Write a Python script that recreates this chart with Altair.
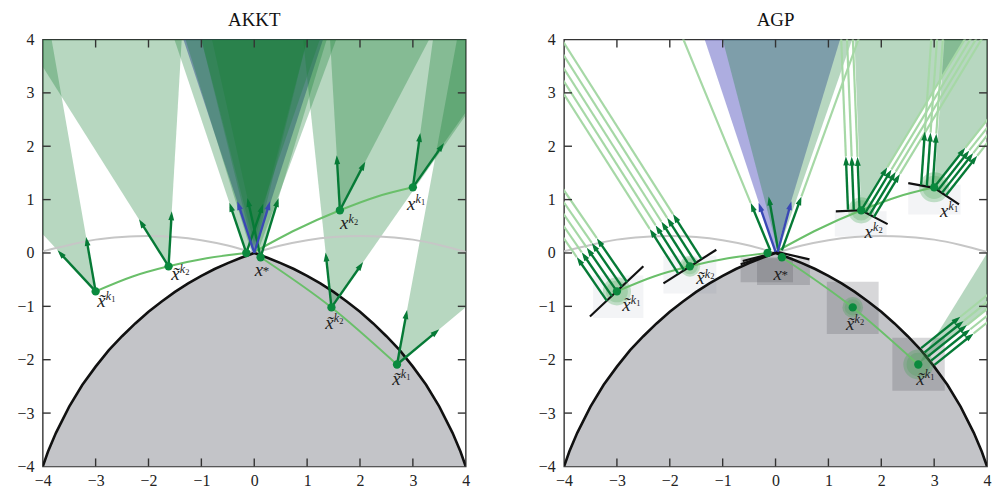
import math
import pandas as pd
import altair as alt

# ---------------- values ----------------
TITLES = ["AKKT", "AGP"]
TICKS = [-4, -3, -2, -1, 0, 1, 2, 3, 4]
INNER_TICKS = [-3, -2, -1, 0, 1, 2, 3]

# boundary of the grey feasible set
BOUND_X = [-4.0, -3.9, -3.75, -3.5, -3.25, -3.0, -2.75, -2.5, -2.25, -2.0, -1.75, -1.5, -1.25, -1.0, -0.75, -0.5, -0.25, 0.0,
           0.25, 0.5, 0.75, 1.0, 1.25, 1.5, 1.75, 2.0, 2.25, 2.5, 2.75, 3.0, 3.25, 3.5, 3.75, 3.9, 4.0]
BOUND_Y = [-4.00, -3.72, -3.37, -2.88, -2.47, -2.13, -1.82, -1.56, -1.32, -1.10, -0.91, -0.73, -0.57, -0.43, -0.30, -0.19, -0.09, 0.00,
           -0.09, -0.19, -0.30, -0.43, -0.57, -0.73, -0.91, -1.10, -1.32, -1.56, -1.82, -2.13, -2.47, -2.88, -3.37, -3.72, -4.00]

# light grey double arc
ARC_LEFT_X = [-4.0, -3.5, -3.0, -2.5, -2.0, -1.5, -1.0, -0.5, 0.0]
ARC_LEFT_Y = [0.03, 0.15, 0.25, 0.30, 0.32, 0.30, 0.24, 0.14, 0.00]
ARC_RIGHT_X = [0.0, 0.5, 1.0, 1.5, 2.0, 2.5, 3.0, 3.5, 4.0]
ARC_RIGHT_Y = [0.00, 0.14, 0.24, 0.30, 0.32, 0.30, 0.25, 0.15, 0.02]

# iterates (green dots)
DOT_X = [-3.00, -1.62, -0.15, 0.12, 1.62, 3.00, 1.46, 2.70]
DOT_Y = [-0.72, -0.25, 0.00, -0.08, 0.80, 1.23, -1.02, -2.09]

# sequences joining the iterates
SEQ_A_X = [-3.00, -2.30, -1.62, -0.90, -0.15]
SEQ_A_Y = [-0.72, -0.44, -0.25, -0.10, 0.00]
SEQ_B_X = [0.00, 0.80, 1.62, 2.30, 3.00]
SEQ_B_Y = [0.02, 0.44, 0.80, 1.05, 1.23]
SEQ_C_X = [0.12, 1.46, 2.70]
SEQ_C_Y = [-0.08, -1.02, -2.09]

# ---- AKKT panel ----
AK_ARR_BX = [-3.00, -3.00, -1.62, -1.62, 1.62, 1.62, 3.00, 3.00, 1.46, 1.46, 2.70, 2.70, -0.15, -0.15, 0.12, 0.12, 0.00, 0.00]
AK_ARR_BY = [-0.72, -0.72, -0.25, -0.25, 0.80, 0.80, 1.23, 1.23, -1.02, -1.02, -2.09, -2.09, 0.00, 0.00, -0.08, -0.08, 0.00, 0.00]
AK_ARR_HX = [-3.72, -3.18, -2.18, -1.56, 1.56, 2.10, 3.14, 3.59, 1.35, 2.06, 2.89, 3.50, -0.47, 0.17, -0.13, 0.46, -0.32, 0.30]
AK_ARR_HY = [0.05, 0.30, 0.63, 0.78, 1.83, 1.71, 2.25, 2.06, 0.01, -0.17, -1.07, -1.43, 0.94, 0.92, 1.03, 1.03, 0.97, 0.97]
AK_ARR_KIND = ["g"] * 16 + ["b"] * 2
AK_CONE_PAIRS = [(0, 1), (2, 3), (4, 5), (6, 7), (8, 9), (10, 11)]

# cones near x* (apex, x where each edge meets the top border y=4)
AK_CEN_AX = [-0.15, 0.12, -0.05, 0.05, 0.00]
AK_CEN_AY = [0.00, -0.08, 0.00, -0.03, 0.00]
AK_CEN_LTOP = [-1.51, -0.80, -1.30, -1.00, -1.00]
AK_CEN_RTOP = [1.24, 1.37, 1.00, 1.55, 1.00]
AK_BLUE = (0.00, 0.00, -1.34, 1.30)

AK_LBL_X = [-2.89, -1.49, 0.09, 1.70, 2.97, 1.42, 2.69]
AK_LBL_Y = [-1.02, -0.51, -0.44, 0.44, 0.81, -1.43, -2.47]

# ---- AGP panel ----
AG_BLACK_ID = [0, 0, 1, 1, 2, 2, 2, 3, 3, 3, 4, 4, 4, 5, 5]
AG_BLACK_X = [-3.51, -2.50, -2.12, -1.12, 1.14, 1.62, 2.12, 2.51, 3.00, 3.47, -0.66, 0.03, 0.64, -0.62, -0.22]
AG_BLACK_Y = [-1.19, -0.25, -0.57, 0.06, 0.78, 0.80, 0.54, 1.31, 1.22, 0.91, -0.21, 0.02, -0.12, -0.15, -0.05]

SQ_X0 = [-3.45, -2.12, 1.12, 2.51, 0.97, 2.21, -0.66, -0.35]
SQ_X1 = [-2.50, -1.12, 2.10, 3.50, 1.95, 3.20, 0.33, 0.65]
SQ_Y0 = [-1.22, -0.76, 0.31, 0.72, -1.52, -2.58, -0.55, -0.60]
SQ_Y1 = [-0.42, -0.05, 0.78, 1.28, -0.54, -1.59, -0.08, -0.10]
SQ_TONE = ["light", "light", "light", "light", "dark", "dark", "dark", "dark"]

DISC_X = [-3.00, -1.62, 1.62, 3.00, 1.46, 2.70]
DISC_Y = [-0.72, -0.25, 0.80, 1.23, -1.02, -2.09]
DISC_R = [0.30, 0.22, 0.28, 0.32, 0.22, 0.32]

BUN_PX = [-3.00, -1.62, 1.62, 1.62, 3.00, 3.00, 2.88]
BUN_PY = [-0.72, -0.25, 0.80, 0.80, 1.23, 1.23, -1.94]
BUN_TX = [0.73, 0.846, -1.0, 0.883, -0.984, 0.835, 0.63]
BUN_TY = [0.68, 0.533, 0.04, -0.469, 0.18, -0.55, -0.78]
BUN_DX = [-0.57, -0.54, -0.04, 0.52, 0.07, 0.62, 0.78]
BUN_DY = [0.82, 0.84, 1.0, 0.85, 1.0, 0.78, 0.62]
BUN_OFFS = [[-0.26, -0.13, 0.0, 0.13, 0.26], [-0.26, -0.13, 0.0, 0.13, 0.26], [0.03, 0.14, 0.25],
            [0.0, 0.09, 0.18, 0.27], [0.03, 0.14, 0.25], [0.0, 0.09, 0.18, 0.27], [-0.2, -0.1, 0.0, 0.1, 0.2]]
BUN_LEN = [1.0, 1.0, 1.0, 0.95, 1.0, 0.95, 0.95]

AG_C_BX = [-0.10, 0.05, 0.12, 0.00, 0.04]
AG_C_BY = [0.05, 0.05, 0.05, 0.02, 0.02]
AG_C_HX = [-0.47, -0.13, 0.49, -0.32, 0.30]
AG_C_HY = [0.94, 1.06, 1.06, 0.94, 0.97]
AG_C_KIND = ["g", "g", "g", "b", "b"]
AG_C_LONG = [1, 0, 1, 0, 0]

AG_CONE_AX = [1.62, 3.00, 2.70, 0.05]
AG_CONE_AY = [0.80, 1.23, -2.09, 0.02]
AG_CONE_D1X = [-0.04, 0.07, 0.53, -1.05]
AG_CONE_D1Y = [1.0, 1.0, 0.85, 3.98]
AG_CONE_D2X = [0.52, 0.62, 0.78, 1.40]
AG_CONE_D2Y = [0.85, 0.78, 0.62, 3.98]
AG_BLUE = (0.00, 0.00, -1.34, 1.22)

AG_LBL_X = [-2.82, -1.42, 0.04, 1.76, 3.19, 1.41, 2.74]
AG_LBL_Y = [-1.08, -0.59, -0.50, 0.28, 0.68, -1.45, -2.47]

LBL_BASE = ["x\u0303", "x\u0303", "x", "x", "x", "x\u0303", "x\u0303"]
LBL_SUP = ["k", "k", "*", "k", "k", "k", "k"]
LBL_SUB = ["1", "2", "", "2", "1", "2", "1"]

# ---------------- styling / geometry helpers ----------------
W, H = 426, 430
SX, SY = W / 8.0, H / 8.0
SERIF = "Liberation Serif"
CONE_GREEN = "#167f35"
ARROW_GREEN = "#067a36"
ARROW_BLUE = "#3a48b5"
BLUE_FILL = "#3c3cb4"
SEQ_GREEN = "#6abf6a"
LONG_GREEN = "#a6d8a6"
DOT_GREEN = "#0b8a3e"
REGION = "#c3c4c8"

XS = alt.Scale(domain=[-4, 4], nice=False, zero=False)
YS = alt.Scale(domain=[-4, 4], nice=False, zero=False)

AXIS_X = alt.Axis(values=TICKS, title=None, ticks=False, tickSize=0, domain=False, grid=False,
                  labelFont=SERIF, labelFontSize=16, labelColor="#222", labelPadding=6,
                  labelFlush=False, labelOverlap=False)
AXIS_Y = alt.Axis(values=TICKS, title=None, ticks=False, tickSize=0, domain=False, grid=False,
                  labelFont=SERIF, labelFontSize=16, labelColor="#222", labelPadding=9,
                  labelFlush=False, labelOverlap=False, minExtent=28, maxExtent=28)


def ex(field):
    return alt.X(field, type="quantitative", scale=XS, axis=AXIS_X)


def ey(field):
    return alt.Y(field, type="quantitative", scale=YS, axis=AXIS_Y, stack=None)


def clip_poly(poly, lo=-4.0, hi=4.0):
    def run(pts, inside, inter):
        out = []
        n = len(pts)
        for i in range(n):
            cur, prev = pts[i], pts[i - 1]
            if inside(cur):
                if not inside(prev):
                    out.append(inter(prev, cur))
                out.append(cur)
            elif inside(prev):
                out.append(inter(prev, cur))
        return out

    def ix(v):
        return lambda p, q: (v, p[1] + (v - p[0]) / (q[0] - p[0]) * (q[1] - p[1]))

    def iy(v):
        return lambda p, q: (p[0] + (v - p[1]) / (q[1] - p[1]) * (q[0] - p[0]), v)

    pts = list(poly)
    for inside, inter in [(lambda p: p[0] >= lo, ix(lo)), (lambda p: p[0] <= hi, ix(hi)),
                          (lambda p: p[1] >= lo, iy(lo)), (lambda p: p[1] <= hi, iy(hi))]:
        if not pts:
            break
        pts = run(pts, inside, inter)
    return pts


def envelope(poly, pid):
    rows = []
    if len(poly) < 3:
        return rows
    xs = sorted(set(round(p[0], 9) for p in poly))
    n = len(poly)
    for xv in xs:
        ys = []
        for i in range(n):
            (x1, y1), (x2, y2) = poly[i], poly[(i + 1) % n]
            if min(x1, x2) - 1e-9 <= xv <= max(x1, x2) + 1e-9:
                if abs(x2 - x1) < 1e-12:
                    ys += [y1, y2]
                else:
                    ys.append(y1 + (y2 - y1) * (xv - x1) / (x2 - x1))
        rows.append({"id": pid, "x": xv, "lo": min(ys), "hi": max(ys)})
    return rows


def cone_rows(ax, ay, d1, d2, pid):
    L = 40.0
    tri = [(ax, ay), (ax + L * d1[0], ay + L * d1[1]), (ax + L * d2[0], ay + L * d2[1])]
    return envelope(clip_poly(tri), pid)


def arrows(bx, by, hx, hy, kinds):
    rules, heads = [], []
    half = 4.5
    for x0, y0, x1, y1, k in zip(bx, by, hx, hy, kinds):
        vx, vy = (x1 - x0) * SX, (y1 - y0) * SY
        n = math.hypot(vx, vy)
        ux, uy = vx / n, vy / n
        cx, cy = x1 - ux * half / SX, y1 - uy * half / SY
        col = ARROW_GREEN if k == "g" else ARROW_BLUE
        ang = math.degrees(math.atan2(vx, vy)) % 360
        rules.append({"x0": x0, "y0": y0, "x1": cx, "y1": cy, "col": col})
        heads.append({"x": cx, "y": cy, "ang": ang, "col": col})
    return pd.DataFrame(rules), pd.DataFrame(heads)


HEAD_PATH = "M0,-1L0.65,1L-0.65,1Z"


def region_layer():
    reg = pd.DataFrame({"x": BOUND_X, "y": BOUND_Y, "b": [-4.0] * len(BOUND_X)})
    return alt.Chart(reg).mark_area(color=REGION, clip=True).encode(x=ex("x"), y=ey("y"), y2="b:Q")


def arc_layer():
    df = pd.concat([
        pd.DataFrame({"x": ARC_LEFT_X, "y": ARC_LEFT_Y, "id": 0}),
        pd.DataFrame({"x": ARC_RIGHT_X, "y": ARC_RIGHT_Y, "id": 1})])
    return alt.Chart(df).mark_line(color="#c6c6c6", strokeWidth=2, interpolate="monotone", clip=True).encode(
        x=ex("x"), y=ey("y"), detail="id:N")


def boundary_layer():
    df = pd.DataFrame({"x": BOUND_X, "y": BOUND_Y})
    return alt.Chart(df).mark_line(color="#111", strokeWidth=2.6, clip=True).encode(x=ex("x"), y=ey("y"))


def seq_layer():
    df = pd.concat([
        pd.DataFrame({"x": SEQ_A_X, "y": SEQ_A_Y, "id": 0}),
        pd.DataFrame({"x": SEQ_B_X, "y": SEQ_B_Y, "id": 1}),
        pd.DataFrame({"x": SEQ_C_X, "y": SEQ_C_Y, "id": 2})])
    return alt.Chart(df).mark_line(color=SEQ_GREEN, strokeWidth=2, interpolate="monotone", clip=True).encode(
        x=ex("x"), y=ey("y"), detail="id:N")


def dots_layer():
    df = pd.DataFrame({"x": DOT_X, "y": DOT_Y})
    return alt.Chart(df).mark_circle(color=DOT_GREEN, size=70, opacity=1).encode(x=ex("x"), y=ey("y"))


def arrow_layers(rules, heads):
    r = alt.Chart(rules).mark_rule(strokeWidth=2.4, clip=True).encode(
        x=ex("x0"), y=ey("y0"), x2="x1:Q", y2="y1:Q", color=alt.Color("col:N", scale=None))
    h = alt.Chart(heads).mark_point(shape=HEAD_PATH, filled=True, size=81, opacity=1, strokeWidth=0).encode(
        x=ex("x"), y=ey("y"), angle=alt.Angle("ang:Q", scale=None), color=alt.Color("col:N", scale=None))
    return [r, h]


def label_layers(lx, ly):
    base = pd.DataFrame({"x": lx, "y": ly, "t": LBL_BASE})
    supk = pd.DataFrame({"x": lx, "y": ly, "t": LBL_SUP})
    sub = pd.DataFrame({"x": lx, "y": ly, "t": LBL_SUB})
    star = supk[supk.t == "*"]
    kk = supk[supk.t == "k"]
    sub = sub[sub.t != ""]
    l1 = alt.Chart(base).mark_text(font=SERIF, fontStyle="italic", fontSize=19, align="center",
                                   baseline="alphabetic", color="#222").encode(x=ex("x"), y=ey("y"), text="t:N")
    l2 = alt.Chart(kk).mark_text(font=SERIF, fontStyle="italic", fontSize=12, align="center",
                                 baseline="alphabetic", color="#222", dx=7, dy=-7).encode(x=ex("x"), y=ey("y"), text="t:N")
    l3 = alt.Chart(sub).mark_text(font=SERIF, fontSize=8.5, align="center",
                                  baseline="alphabetic", color="#222", dx=12, dy=-5).encode(x=ex("x"), y=ey("y"), text="t:N")
    l4 = alt.Chart(star).mark_text(font=SERIF, fontSize=13, align="center",
                                   baseline="alphabetic", color="#222", dx=7, dy=-1).encode(x=ex("x"), y=ey("y"), text="t:N")
    return [l1, l2, l3, l4]


def tick_layer():
    L = 0.15
    rows = []
    for t in INNER_TICKS:
        rows.append({"x0": t, "x1": t, "y0": -4, "y1": -4 + L})
        rows.append({"x0": t, "x1": t, "y0": 4, "y1": 4 - L})
        rows.append({"x0": -4, "x1": -4 + L, "y0": t, "y1": t})
        rows.append({"x0": 4, "x1": 4 - L, "y0": t, "y1": t})
    return alt.Chart(pd.DataFrame(rows)).mark_rule(color="#333", strokeWidth=1.4).encode(
        x=ex("x0"), y=ey("y0"), x2="x1:Q", y2="y1:Q")


def blue_cone_layer(spec, opacity):
    ax, ay, lt, rt = spec
    rows = cone_rows(ax, ay, (lt - ax, 4 - ay), (rt - ax, 4 - ay), 0)
    return alt.Chart(pd.DataFrame(rows)).mark_area(color=BLUE_FILL, opacity=opacity, clip=True).encode(
        x=ex("x"), y=ey("lo"), y2="hi:Q", detail="id:N")


def green_cones_layer(rows):
    return alt.Chart(pd.DataFrame(rows)).mark_area(color=CONE_GREEN, opacity=0.31, clip=True).encode(
        x=ex("x"), y=ey("lo"), y2="hi:Q", detail="id:N")


def title_layer(t):
    df = pd.DataFrame({"t": [t]})
    return alt.Chart(df).mark_text(font=SERIF, fontSize=19, color="#111", align="center",
                                   baseline="alphabetic").encode(
        x=alt.value(W / 2), y=alt.value(-14), text="t:N")


# ---------------- AKKT panel ----------------
ak_cones = []
pid = 0
for i, j in AK_CONE_PAIRS:
    d1 = (AK_ARR_HX[i] - AK_ARR_BX[i], AK_ARR_HY[i] - AK_ARR_BY[i])
    d2 = (AK_ARR_HX[j] - AK_ARR_BX[j], AK_ARR_HY[j] - AK_ARR_BY[j])
    ak_cones += cone_rows(AK_ARR_BX[i], AK_ARR_BY[i], d1, d2, pid)
    pid += 1
for ax, ay, lt, rt in zip(AK_CEN_AX, AK_CEN_AY, AK_CEN_LTOP, AK_CEN_RTOP):
    ak_cones += cone_rows(ax, ay, (lt - ax, 4 - ay), (rt - ax, 4 - ay), pid)
    pid += 1

ak_rules, ak_heads = arrows(AK_ARR_BX, AK_ARR_BY, AK_ARR_HX, AK_ARR_HY, AK_ARR_KIND)

akkt = alt.layer(
    region_layer(),
    blue_cone_layer(AK_BLUE, 0.5),
    green_cones_layer(ak_cones),
    arc_layer(),
    boundary_layer(),
    seq_layer(),
    *arrow_layers(ak_rules, ak_heads),
    dots_layer(),
    *label_layers(AK_LBL_X, AK_LBL_Y),
    tick_layer(),
    title_layer(TITLES[0]),
).properties(width=W, height=H)

# ---------------- AGP panel ----------------
ag_cones = []
for k in range(len(AG_CONE_AX)):
    ag_cones += cone_rows(AG_CONE_AX[k], AG_CONE_AY[k], (AG_CONE_D1X[k], AG_CONE_D1Y[k]),
                          (AG_CONE_D2X[k], AG_CONE_D2Y[k]), k)

bx, by, hx, hy, kinds = [], [], [], [], []
long_rows = []
for b in range(len(BUN_PX)):
    for s in BUN_OFFS[b]:
        x0 = BUN_PX[b] + s * BUN_TX[b]
        y0 = BUN_PY[b] + s * BUN_TY[b]
        x1 = x0 + BUN_LEN[b] * BUN_DX[b]
        y1 = y0 + BUN_LEN[b] * BUN_DY[b]
        bx.append(x0); by.append(y0); hx.append(x1); hy.append(y1); kinds.append("g")
        long_rows.append({"x0": x1, "y0": y1, "x1": x0 + 20 * BUN_DX[b], "y1": y0 + 20 * BUN_DY[b]})
for k in range(len(AG_C_BX)):
    bx.append(AG_C_BX[k]); by.append(AG_C_BY[k]); hx.append(AG_C_HX[k]); hy.append(AG_C_HY[k])
    kinds.append(AG_C_KIND[k])
    if AG_C_LONG[k]:
        dx, dy = AG_C_HX[k] - AG_C_BX[k], AG_C_HY[k] - AG_C_BY[k]
        long_rows.append({"x0": AG_C_HX[k], "y0": AG_C_HY[k],
                          "x1": AG_C_BX[k] + 20 * dx, "y1": AG_C_BY[k] + 20 * dy})
ag_rules, ag_heads = arrows(bx, by, hx, hy, kinds)

sq = pd.DataFrame({"x0": SQ_X0, "x1": SQ_X1, "y0": SQ_Y0, "y1": SQ_Y1, "tone": SQ_TONE})
sq_light = alt.Chart(sq[sq.tone == "light"]).mark_rect(color="#6a7890", opacity=0.08).encode(
    x=ex("x0"), x2="x1:Q", y=ey("y0"), y2="y1:Q")
sq_dark = alt.Chart(sq[sq.tone == "dark"]).mark_rect(color="#494b50", opacity=0.22).encode(
    x=ex("x0"), x2="x1:Q", y=ey("y0"), y2="y1:Q")

disc = pd.DataFrame({"x": DISC_X, "y": DISC_Y, "r": DISC_R})
disc["s_out"] = [math.pi * (r * SX) ** 2 for r in DISC_R]
disc["s_in"] = [math.pi * (0.78 * r * SX) ** 2 for r in DISC_R]
disc_out = alt.Chart(disc).mark_circle(color="#3aa04a", opacity=0.28).encode(
    x=ex("x"), y=ey("y"), size=alt.Size("s_out:Q", scale=None))
disc_in = alt.Chart(disc).mark_circle(color="#3aa04a", opacity=0.22).encode(
    x=ex("x"), y=ey("y"), size=alt.Size("s_in:Q", scale=None))

long_layer = alt.Chart(pd.DataFrame(long_rows)).mark_rule(color=LONG_GREEN, strokeWidth=2.2, clip=True).encode(
    x=ex("x0"), y=ey("y0"), x2="x1:Q", y2="y1:Q")

black = pd.DataFrame({"x": AG_BLACK_X, "y": AG_BLACK_Y, "id": AG_BLACK_ID, "ord": list(range(len(AG_BLACK_X)))})
black_layer = alt.Chart(black).mark_line(color="#111", strokeWidth=2.2, clip=True).encode(
    x=ex("x"), y=ey("y"), detail="id:N", order="ord:Q")

agp = alt.layer(
    region_layer(),
    sq_light,
    sq_dark,
    blue_cone_layer(AG_BLUE, 0.42),
    green_cones_layer(ag_cones),
    arc_layer(),
    long_layer,
    boundary_layer(),
    disc_out,
    disc_in,
    seq_layer(),
    black_layer,
    *arrow_layers(ag_rules, ag_heads),
    dots_layer(),
    *label_layers(AG_LBL_X, AG_LBL_Y),
    tick_layer(),
    title_layer(TITLES[1]),
).properties(width=W, height=H)

chart = alt.hconcat(akkt, agp, spacing=65).properties(
    padding={"left": 6, "top": 0, "right": 0, "bottom": 0}
).configure_view(stroke="#333", strokeWidth=1.4)

chart.save("out.html", embed_options={"renderer": "svg", "actions": False})
